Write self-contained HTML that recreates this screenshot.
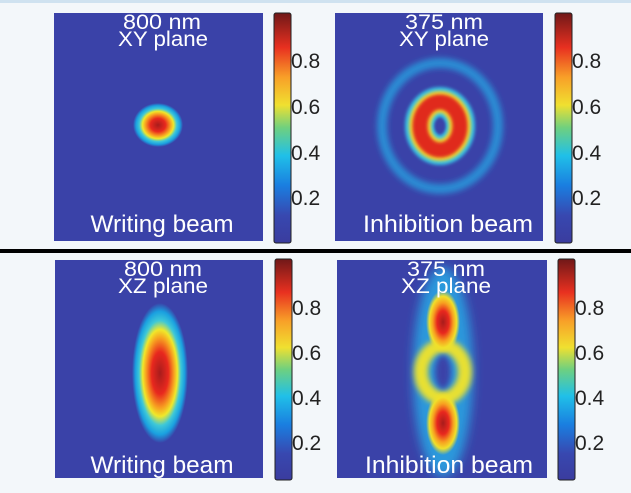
<!DOCTYPE html>
<html><head><style>
html,body{margin:0;padding:0;background:#f3f7fa;}
svg{display:block;}
</style></head><body>
<svg width="631" height="493" viewBox="0 0 631 493" xmlns="http://www.w3.org/2000/svg" font-family="Liberation Sans, sans-serif">
<defs>
<radialGradient id="spot">
<stop offset="0" stop-color="#a81c1c"/>
<stop offset="0.3" stop-color="#e8281e"/>
<stop offset="0.5" stop-color="#f7a020"/>
<stop offset="0.62" stop-color="#f0e82a"/>
<stop offset="0.75" stop-color="#3ec8d8"/>
<stop offset="0.88" stop-color="#1aa0e0"/>
<stop offset="1" stop-color="#3a42a8"/>
</radialGradient>
<radialGradient id="lobe">
<stop offset="0" stop-color="#a81c1c"/>
<stop offset="0.35" stop-color="#e8281e"/>
<stop offset="0.6" stop-color="#f7a020"/>
<stop offset="0.8" stop-color="#f0e02a"/>
<stop offset="1" stop-color="#f0e02a" stop-opacity="0"/>
</radialGradient>
<linearGradient id="cb" x1="0" y1="1" x2="0" y2="0">
<stop offset="0" stop-color="#3a3c9e"/>
<stop offset="0.12" stop-color="#3848b0"/>
<stop offset="0.25" stop-color="#1a7ee0"/>
<stop offset="0.38" stop-color="#20c0e8"/>
<stop offset="0.5" stop-color="#6ed080"/>
<stop offset="0.6" stop-color="#f0e030"/>
<stop offset="0.72" stop-color="#f8a028"/>
<stop offset="0.85" stop-color="#e83020"/>
<stop offset="1" stop-color="#701818"/>
</linearGradient>
<filter id="bl" x="-50%" y="-50%" width="200%" height="200%"><feGaussianBlur stdDeviation="3"/></filter>
<filter id="bl1" x="-50%" y="-50%" width="200%" height="200%"><feGaussianBlur stdDeviation="1.5"/></filter>
<filter id="bl2" x="-50%" y="-50%" width="200%" height="200%"><feGaussianBlur stdDeviation="5"/></filter>
<clipPath id="c4"><rect x="337" y="260" width="210" height="218"/></clipPath>
</defs>
<rect x="0" y="0" width="631" height="3" fill="#cfe2f0"/>
<rect x="0" y="249" width="631" height="4" fill="#000"/>

<!-- Panel 1 -->
<rect x="54" y="13" width="209" height="228" fill="#3a42a8"/>
<ellipse cx="158" cy="125" rx="25" ry="22" fill="url(#spot)"/>
<!-- Panel 2 -->
<rect x="335" y="13" width="208" height="228" fill="#3a42a8"/>
<ellipse cx="440" cy="126" rx="58" ry="63" fill="none" stroke="#2a8cd4" stroke-width="10" filter="url(#bl)"/>
<ellipse cx="440" cy="126" rx="20" ry="24" fill="none" stroke="#38c0e4" stroke-width="30" filter="url(#bl1)"/>
<ellipse cx="440" cy="126" rx="20" ry="24" fill="none" stroke="#f0d830" stroke-width="22" filter="url(#bl1)"/>
<ellipse cx="440" cy="126" rx="20" ry="24" fill="none" stroke="#e02a1e" stroke-width="15" filter="url(#bl1)"/>
<ellipse cx="440" cy="126" rx="5" ry="7" fill="#3a42a8" filter="url(#bl1)"/>
<!-- Panel 3 -->
<rect x="55" y="260" width="208" height="218" fill="#3a42a8"/>
<ellipse cx="160" cy="373" rx="28" ry="70" fill="url(#spot)"/>
<!-- Panel 4 -->
<rect x="337" y="260" width="210" height="218" fill="#3a42a8"/>
<g clip-path="url(#c4)">
<ellipse cx="443" cy="372" rx="30" ry="105" fill="#2a98dc" filter="url(#bl2)"/>
<ellipse cx="443" cy="372" rx="22" ry="26" fill="none" stroke="#e8e030" stroke-width="14" filter="url(#bl)"/>
<ellipse cx="443" cy="322" rx="17" ry="32" fill="url(#lobe)"/>
<ellipse cx="443" cy="423" rx="17" ry="32" fill="url(#lobe)"/>
<ellipse cx="443" cy="372" rx="8" ry="17" fill="#3a42a8" filter="url(#bl)"/>
</g>

<!-- Colorbars -->
<g stroke="#222" stroke-width="1">
<rect x="274" y="13" width="17" height="230" rx="2" fill="url(#cb)"/>
<rect x="555" y="13" width="17" height="230" rx="2" fill="url(#cb)"/>
<rect x="275" y="259" width="17" height="221" rx="2" fill="url(#cb)"/>
<rect x="558" y="259" width="17" height="221" rx="2" fill="url(#cb)"/>
</g>
<g font-size="21" fill="#222">
<text x="291" y="68">0.8</text><text x="291" y="114">0.6</text><text x="291" y="160">0.4</text><text x="291" y="205">0.2</text>
<text x="572" y="68">0.8</text><text x="572" y="114">0.6</text><text x="572" y="160">0.4</text><text x="572" y="205">0.2</text>
<text x="292" y="315">0.8</text><text x="292" y="360">0.6</text><text x="292" y="405">0.4</text><text x="292" y="450">0.2</text>
<text x="575" y="315">0.8</text><text x="575" y="360">0.6</text><text x="575" y="405">0.4</text><text x="575" y="450">0.2</text>
</g>
<g font-size="21" fill="#fff" text-anchor="middle" lengthAdjust="spacingAndGlyphs">
<text x="162" y="29" textLength="78" lengthAdjust="spacingAndGlyphs">800 nm</text><text x="163" y="46" textLength="90" lengthAdjust="spacingAndGlyphs">XY plane</text>
<text x="444" y="29" textLength="78" lengthAdjust="spacingAndGlyphs">375 nm</text><text x="444" y="46" textLength="90" lengthAdjust="spacingAndGlyphs">XY plane</text>
<text x="163" y="276" textLength="78" lengthAdjust="spacingAndGlyphs">800 nm</text><text x="163" y="293" textLength="90" lengthAdjust="spacingAndGlyphs">XZ plane</text>
<text x="446" y="276" textLength="78" lengthAdjust="spacingAndGlyphs">375 nm</text><text x="446" y="293" textLength="90" lengthAdjust="spacingAndGlyphs">XZ plane</text>
</g>
<g font-size="24" fill="#fff" text-anchor="middle">
<text x="162" y="232" textLength="143" lengthAdjust="spacingAndGlyphs">Writing beam</text>
<text x="448" y="232" textLength="170" lengthAdjust="spacingAndGlyphs">Inhibition beam</text>
<text x="162" y="473" textLength="143" lengthAdjust="spacingAndGlyphs">Writing beam</text>
<text x="449" y="473" textLength="168" lengthAdjust="spacingAndGlyphs">Inhibition beam</text>
</g>
</svg>
</body></html>
